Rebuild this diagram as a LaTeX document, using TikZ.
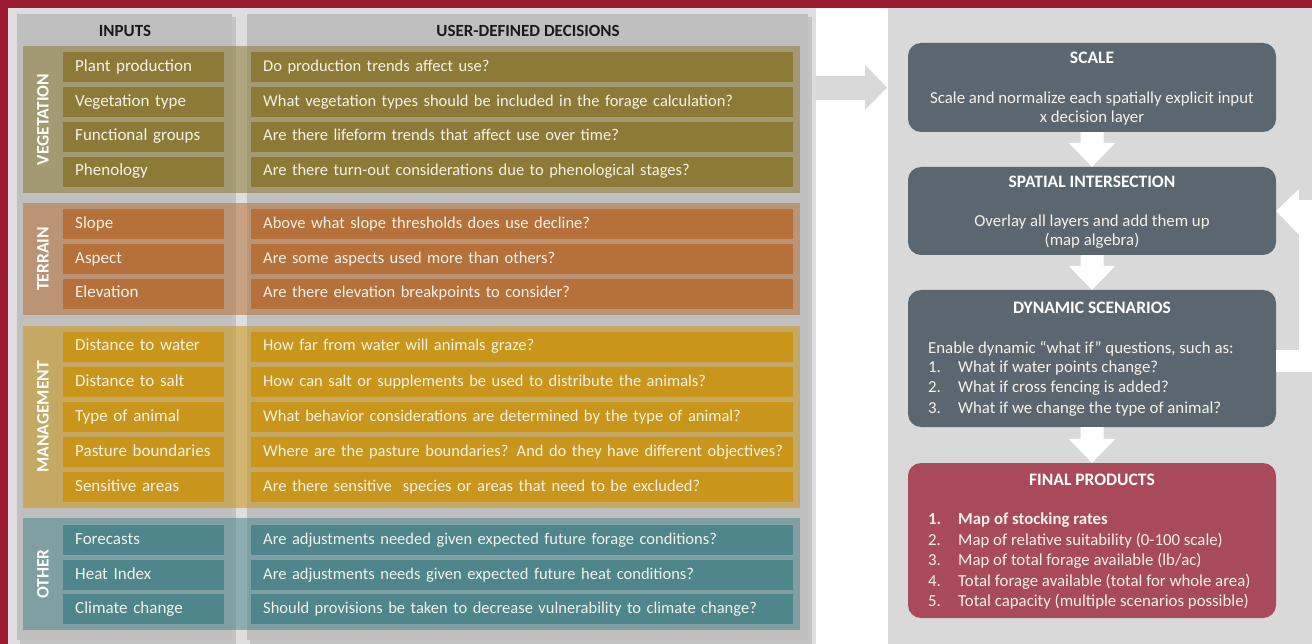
\documentclass[tikz,border=0pt]{standalone}
\usepackage{fontspec}
\setmainfont{Carlito}
\usetikzlibrary{calc}
\definecolor{crimson}{HTML}{9B1B30}
\definecolor{bgL}{HTML}{DEDEDE}
\definecolor{bgR}{HTML}{D9D9D9}
\definecolor{colg}{HTML}{BFBFBF}
\definecolor{veg}{HTML}{8C7B36}
\definecolor{ter}{HTML}{B6713A}
\definecolor{mgt}{HTML}{C9961B}
\definecolor{oth}{HTML}{4E868B}
\definecolor{slate}{HTML}{5B6770}
\definecolor{fin}{HTML}{A84A5A}
\definecolor{itxt}{HTML}{F4F2EA}
\definecolor{htxt}{HTML}{1A1A1A}
\newcommand\itemfont{\fontsize{16.5}{19}\selectfont}
\newcommand\litemfont{\fontsize{17}{19}\selectfont}
\newcommand\bodyfont{\fontsize{16.8}{19}\selectfont}
\newcommand\headfont{\fontsize{17}{19}\selectfont\bfseries}
\newcommand\catfont{\fontsize{17.5}{19}\selectfont\bfseries}
\begin{document}
\begin{tikzpicture}[x=1pt,y=-1pt,
  item/.style={fill=#1, anchor=west, minimum height=30, inner xsep=12, inner ysep=0, align=left, text=itxt, font=\itemfont, text height=11.5, text depth=3.5, execute at begin node={\hbox\bgroup}, execute at end node={\egroup}},
  litem/.style={item=#1, text width=137, font=\litemfont},
  ritem/.style={item=#1, text width=518},
  band/.style={fill=#1, opacity=0.55},
  catlabel/.style={rotate=90, text=white, font=\catfont, inner sep=0},
  colhead/.style={text=htxt, font=\headfont, inner sep=0},
  procbox/.style={fill=#1, rounded corners=13, minimum width=368, inner sep=0},
  ptitle/.style={text=white, font=\catfont, inner sep=0},
  pbody/.style={text=itxt, font=\bodyfont, align=center, inner sep=0},
  pline/.style={text=itxt, font=\bodyfont, anchor=west, inner sep=0, text height=11.5, text depth=3.5},
  blockarrow/.style={fill=white}
]
\useasboundingbox (0,0) rectangle (1312,644);
% backgrounds
\fill[crimson] (0,0) rectangle (1312,644);
\fill[bgL] (8,8) rectangle (816,644);
\fill[white] (816,8) rectangle (888,644);
\fill[bgR] (888,8) rectangle (1312,644);
% column boxes with shadow
\fill[black, opacity=0.12] (20,17) rectangle (236,644);
\fill[black, opacity=0.12] (250,17) rectangle (812,644);
\node[fill=colg, minimum width=215, minimum height=626, inner sep=0, anchor=north west] (colin) at (17,14) {};
\node[fill=colg, minimum width=561, minimum height=626, inner sep=0, anchor=north west] (coldec) at (247,14) {};
\node[colhead] (hin) at (125,31) {INPUTS};
\node[colhead] (hdec) at (528,31) {USER-DEFINED DECISIONS};
% bands
\fill[band=veg] (23,46) rectangle (800,193);
\fill[band=ter] (23,203) rectangle (800,315);
\fill[band=mgt] (23,326) rectangle (800,508);
\fill[band=oth] (23,518) rectangle (800,630);
\node[catlabel] (lveg) at (43,119.5) {VEGETATION};
\node[catlabel] (lter) at (43,259) {TERRAIN};
\node[catlabel] (lmgt) at (43,417) {MANAGEMENT};
\node[catlabel] (loth) at (43,574) {OTHER};
% vegetation
\node[litem=veg] (i1) at (63,67.5) {Plant production};
\node[litem=veg] (i2) at (63,102.5) {Vegetation type};
\node[litem=veg] (i3) at (63,137) {Functional groups};
\node[litem=veg] (i4) at (63,172) {Phenology};
\node[ritem=veg] (d1) at (251,67.5) {Do production trends affect use?};
\node[ritem=veg] (d2) at (251,102.5) {What vegetation types should be included in the forage calculation?};
\node[ritem=veg] (d3) at (251,137) {Are there lifeform trends that affect use over time?};
\node[ritem=veg] (d4) at (251,172) {Are there turn-out considerations due to phenological stages?};
% terrain
\node[litem=ter] (i5) at (63,224.5) {Slope};
\node[litem=ter] (i6) at (63,259.5) {Aspect};
\node[litem=ter] (i7) at (63,294) {Elevation};
\node[ritem=ter] (d5) at (251,224.5) {Above what slope thresholds does use decline?};
\node[ritem=ter] (d6) at (251,259.5) {Are some aspects used more than others?};
\node[ritem=ter] (d7) at (251,294) {Are there elevation breakpoints to consider?};
% management
\node[litem=mgt] (i8) at (63,347) {Distance to water};
\node[litem=mgt] (i9) at (63,382) {Distance to salt};
\node[litem=mgt] (i10) at (63,417) {Type of animal};
\node[litem=mgt] (i11) at (63,452) {Pasture boundaries};
\node[litem=mgt] (i12) at (63,487) {Sensitive areas};
\node[ritem=mgt] (d8) at (251,347) {How far from water will animals graze?};
\node[ritem=mgt] (d9) at (251,382) {How can salt or supplements be used to distribute the animals?};
\node[ritem=mgt] (d10) at (251,417) {What behavior considerations are determined by the type of animal?};
\node[ritem=mgt] (d11) at (251,452) {Where are the pasture boundaries? And do they have different objectives?};
\node[ritem=mgt] (d12) at (251,487) {Are there sensitive\ \ species or areas that need to be excluded?};
% other
\node[litem=oth] (i13) at (63,540) {Forecasts};
\node[litem=oth] (i14) at (63,575) {Heat Index};
\node[litem=oth] (i15) at (63,609) {Climate change};
\node[ritem=oth] (d13) at (251,540) {Are adjustments needed given expected future forage conditions?};
\node[ritem=oth] (d14) at (251,575) {Are adjustments needs given expected future heat conditions?};
\node[ritem=oth] (d15) at (251,609) {Should provisions be taken to decrease vulnerability to climate change?};
% big arrow between panels
\fill[bgR] (815,76) -- (865,76) -- (865,65) -- (887,87.5) -- (865,110) -- (865,100) -- (815,100) -- cycle;
% process boxes
\node[procbox=slate, minimum height=89] (scale) at (1092,87.5) {};
\node[procbox=slate, minimum height=88] (spat) at (1092,211) {};
\node[procbox=slate, minimum height=137] (dyn) at (1092,358.5) {};
\node[procbox=fin, minimum height=155] (final) at (1092,540.5) {};
\node[ptitle] (tscale) at (1092,58) {SCALE};
\node[pbody] (bscale) at (1092,108.5) {Scale and normalize each spatially explicit input\\x decision layer};
\node[ptitle] (tspat) at (1092,182) {SPATIAL INTERSECTION};
\node[pbody] (bspat) at (1092,231.5) {Overlay all layers and add them up\\(map algebra)};
\node[ptitle] (tdyn) at (1092,308) {DYNAMIC SCENARIOS};
\node[pline] (e0) at (928,349) {Enable dynamic “what if” questions, such as:};
\node[pline] (n1) at (928,368.5) {1.};
\node[pline] (e1) at (958,368.5) {What if water points change?};
\node[pline] (n2) at (928,388.5) {2.};
\node[pline] (e2) at (958,388.5) {What if cross fencing is added?};
\node[pline] (n3) at (928,409) {3.};
\node[pline] (e3) at (958,409) {What if we change the type of animal?};
\node[ptitle] (tfin) at (1092,480) {FINAL PRODUCTS};
\node[pline, font=\bodyfont\bfseries] (f1n) at (928,520) {1.};
\node[pline, font=\bodyfont\bfseries] (f1) at (958,520) {Map of stocking rates};
\node[pline] (f2n) at (928,541) {2.};
\node[pline] (f2) at (958,541) {Map of relative suitability (0-100 scale)};
\node[pline] (f3n) at (928,561) {3.};
\node[pline] (f3) at (958,561) {Map of total forage available (lb/ac)};
\node[pline] (f4n) at (928,582) {4.};
\node[pline] (f4) at (958,582) {Total forage available (total for whole area)};
\node[pline] (f5n) at (928,602) {5.};
\node[pline] (f5) at (958,602) {Total capacity (multiple scenarios possible)};
% down arrows
\foreach \a/\b in {scale/spat, spat/dyn, dyn/final}{
  \fill[blockarrow] let \p1=(\a.south), \p2=(\b.north) in
    (\x1-11.5pt,\y1) -- (\x1+11.5pt,\y1) -- (\x1+11.5pt,\y2+24pt) -- (\x1+23.5pt,\y2+24pt)
    -- (\x2,\y2) -- (\x1-23.5pt,\y2+24pt) -- (\x1-11.5pt,\y2+24pt) -- cycle;
}
% feedback arrow
\coordinate (loopout) at (dyn.east |- 0,350);
\fill[blockarrow] (loopout) -- (1312,350) -- (1312,372) -- (dyn.east |- 0,372) -- cycle;
\fill[blockarrow] (1299,200) -- (1312,200) -- (1312,372) -- (1299,372) -- cycle;
\fill[blockarrow] (spat.east) -- (1299,189) -- (1299,235) -- cycle;
\end{tikzpicture}
\end{document}
